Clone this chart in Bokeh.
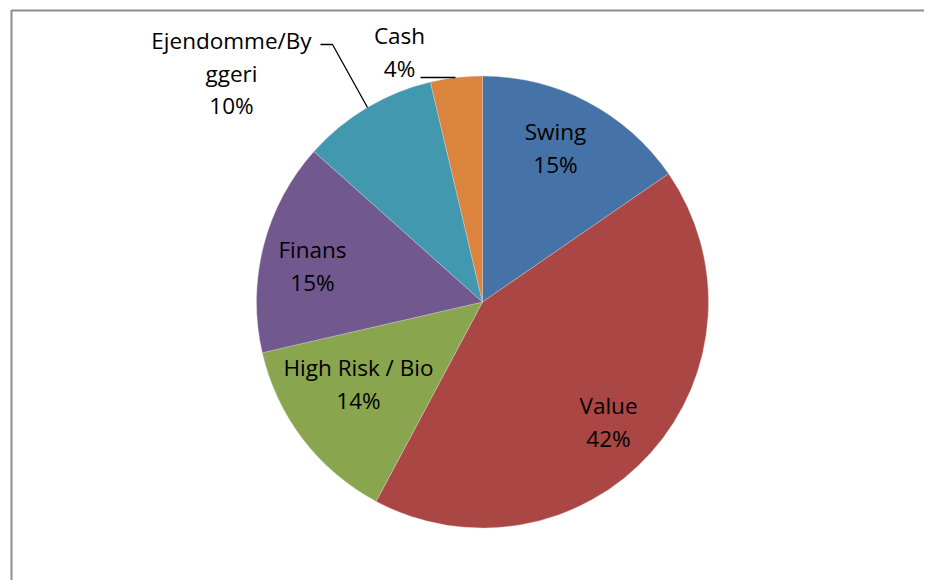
import math
from bokeh.plotting import figure
from bokeh.models import Range1d
from bokeh.core.properties import value
from bokeh.embed import file_html
from bokeh.resources import INLINE

# ---- data ----
categories = ["Swing", "Value", "High Risk / Bio", "Finans", "Ejendomme/Byggeri", "Cash"]
shares = [15.4, 42.4, 13.6, 15.2, 9.7, 3.7]
colors = ["#4572A7", "#AA4643", "#89A54E", "#71588F", "#4198AF", "#DB843D"]

# ---- layout (pixel space of the picture; converted below) ----
W, H = 924, 580
def px(sx):
    return sx
def py(sy):
    return H - sy

cx, cy, R = px(482), py(301.5), 226
label_lines = {
    "Ejendomme/Byggeri": ["Ejendomme/By", "ggeri"],
}
label_anchor = [(555, 131), (608, 405), (358, 367), (312, 249), (231, 40), (399, 35)]
line_gap = 32.5

p = figure(width=W, height=H, output_backend="svg", toolbar_location=None,
           x_range=Range1d(0, W), y_range=Range1d(0, H),
           x_axis_type=None, y_axis_type=None, min_border=0)
p.outline_line_color = None
p.xgrid.visible = False
p.ygrid.visible = False
p.background_fill_color = "white"
p.border_fill_color = "white"

total = sum(shares)
cum = 0.0
starts, ends = [], []
for s in shares:
    a0 = math.pi / 2 - 2 * math.pi * (cum + s) / total
    a1 = math.pi / 2 - 2 * math.pi * cum / total
    starts.append(a0)
    ends.append(a1)
    cum += s

p.wedge(x=[cx] * len(shares), y=[cy] * len(shares), radius=R,
        start_angle=starts, end_angle=ends, direction="anticlock",
        fill_color=colors, line_color="#d8d8d8", line_width=0.6, line_alpha=0.6)

# frame border (left + top only visible)
p.line(x=[px(11), px(11)], y=[py(9.5), -10], line_color="#8e8e8e", line_width=2)
p.line(x=[px(11), W + 10], y=[py(10), py(10)], line_color="#8e8e8e", line_width=2)

# leader lines
p.line(x=[px(320), px(332), px(367)], y=[py(44), py(44), py(107)], line_color="black", line_width=1.3)
p.line(x=[px(420), px(455)], y=[py(77), py(77)], line_color="black", line_width=1.3)

for cat, s, (ax, ay) in zip(categories, shares, label_anchor):
    lines = label_lines.get(cat, [cat]) + [f"{round(s / total * 100)}%"]
    for i, t in enumerate(lines):
        p.text(x=[px(ax)], y=[py(ay + i * line_gap)], text=[t],
               text_align="center", text_baseline="middle",
               text_font=value("Open Sans"), text_font_size="22.5px", text_color="black")

open("out.html", "w").write(file_html(p, INLINE))
